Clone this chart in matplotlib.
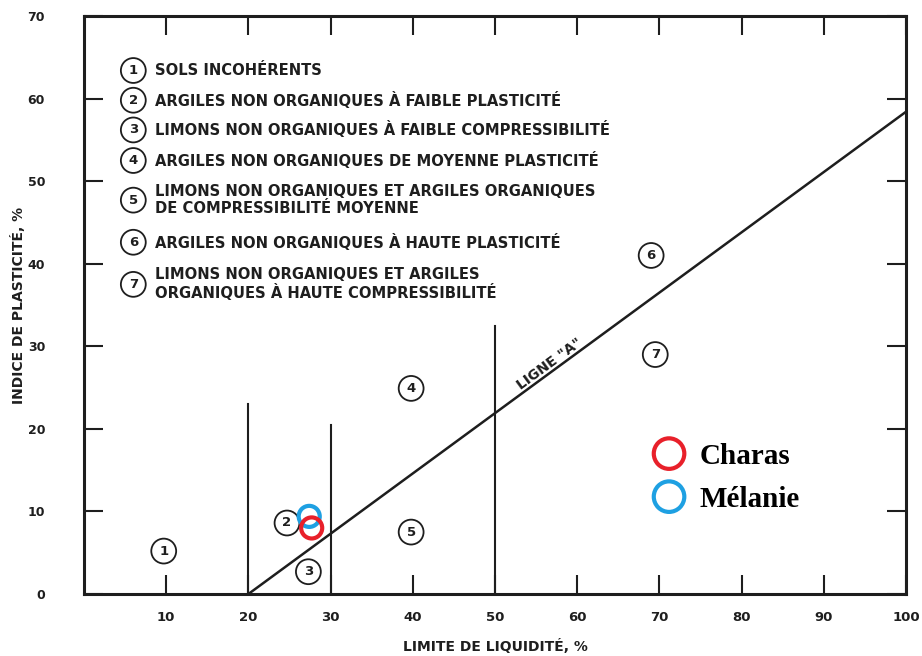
import matplotlib.pyplot as plt

# Diagramme de plasticité de Casagrande
ligne_a_ll = [20, 100]
ligne_a_ip = [0, 58.4]

# limites verticales (LL, hauteur)
vert_ll = [20, 30, 50]
vert_top = [23, 20.5, 32.5]

# numéros de zones sur le diagramme
zone_num = ['1', '2', '3', '4', '5', '6', '7']
zone_x = [9.7, 24.7, 27.3, 39.8, 39.8, 69.0, 69.5]
zone_y = [5.2, 8.6, 2.7, 24.9, 7.5, 41.0, 29.0]

# légende des zones
leg_txt = ['SOLS INCOHÉRENTS',
           'ARGILES NON ORGANIQUES À FAIBLE PLASTICITÉ',
           'LIMONS NON ORGANIQUES À FAIBLE COMPRESSIBILITÉ',
           'ARGILES NON ORGANIQUES DE MOYENNE PLASTICITÉ',
           'LIMONS NON ORGANIQUES ET ARGILES ORGANIQUES\nDE COMPRESSIBILITÉ MOYENNE',
           'ARGILES NON ORGANIQUES À HAUTE PLASTICITÉ',
           'LIMONS NON ORGANIQUES ET ARGILES\nORGANIQUES À HAUTE COMPRESSIBILITÉ']
leg_y = [63.4, 59.8, 56.2, 52.5, 47.7, 42.6, 37.5]

# échantillons
ech_nom = ['Mélanie', 'Charas']
ech_ll = [27.4, 27.7]
ech_ip = [9.4, 8.0]
ech_col = ['#1ea0e2', '#e8202a']

ink = '#1e1e1e'
fig = plt.figure(figsize=(9.22, 6.56), dpi=100)
ax = fig.add_axes([0.0911, 0.0945, 0.8915, 0.8811])
ax.set_xlim(0, 100)
ax.set_ylim(0, 70)

ax.plot(ligne_a_ll, ligne_a_ip, color=ink, lw=1.8)
for x, h in zip(vert_ll, vert_top):
    ax.plot([x, x], [0, h], color=ink, lw=1.5)

ax.text(56.6, 27.8, 'LIGNE "A"', rotation=36.3, ha='center', va='center',
        fontsize=10, fontweight='bold', color=ink, rotation_mode='anchor')

circ = dict(boxstyle='circle,pad=0.45', fc='none', ec=ink, lw=1.3)
for n, x, y in zip(zone_num, zone_x, zone_y):
    ax.text(x, y, n, ha='center', va='center', fontsize=9.5, fontweight='bold',
            color=ink, bbox=circ)

for i, (t, y) in enumerate(zip(leg_txt, leg_y)):
    ax.text(6.0, y, str(i + 1), ha='center', va='center', fontsize=9.5,
            fontweight='bold', color=ink, bbox=circ)
    ax.text(8.6, y, t, ha='left', va='center', fontsize=10.6, fontweight='bold',
            color=ink, linespacing=1.15)

handles = []
for nom, x, y, c in zip(ech_nom, ech_ll, ech_ip, ech_col):
    h = ax.scatter([x], [y], s=230, facecolors='none', edgecolors=c,
                   linewidths=3.0, zorder=5, label=nom)
    handles.append(h)

ax.legend(handles[::-1], ech_nom[::-1], loc='upper left',
          bbox_to_anchor=(0.655, 0.307), frameon=False, markerscale=1.45,
          prop={'family': 'Liberation Serif', 'size': 21, 'weight': 'bold'},
          labelspacing=0.55, handletextpad=0.35, handlelength=1.4,
          scatteryoffsets=[0.5])

for s in ax.spines.values():
    s.set_linewidth(2.2)
    s.set_color(ink)

ax.set_xticks(range(10, 101, 10))
ax.set_yticks(range(0, 71, 10))
ax.tick_params(direction='in', length=14, width=1.5, color=ink,
               top=True, right=True, labelsize=9.5, labelcolor=ink)
ax.tick_params(axis='y', pad=28, labelsize=9)
ax.tick_params(axis='x', pad=12)
for lab in ax.get_xticklabels() + ax.get_yticklabels():
    lab.set_fontweight('bold')

ax.set_xlabel('LIMITE DE LIQUIDITÉ, %', fontsize=10, fontweight='bold',
              color=ink, labelpad=11)
ax.set_ylabel('INDICE DE PLASTICITÉ, %', fontsize=10, fontweight='bold',
              color=ink, labelpad=1)

fig.savefig('out.png', dpi=100)
